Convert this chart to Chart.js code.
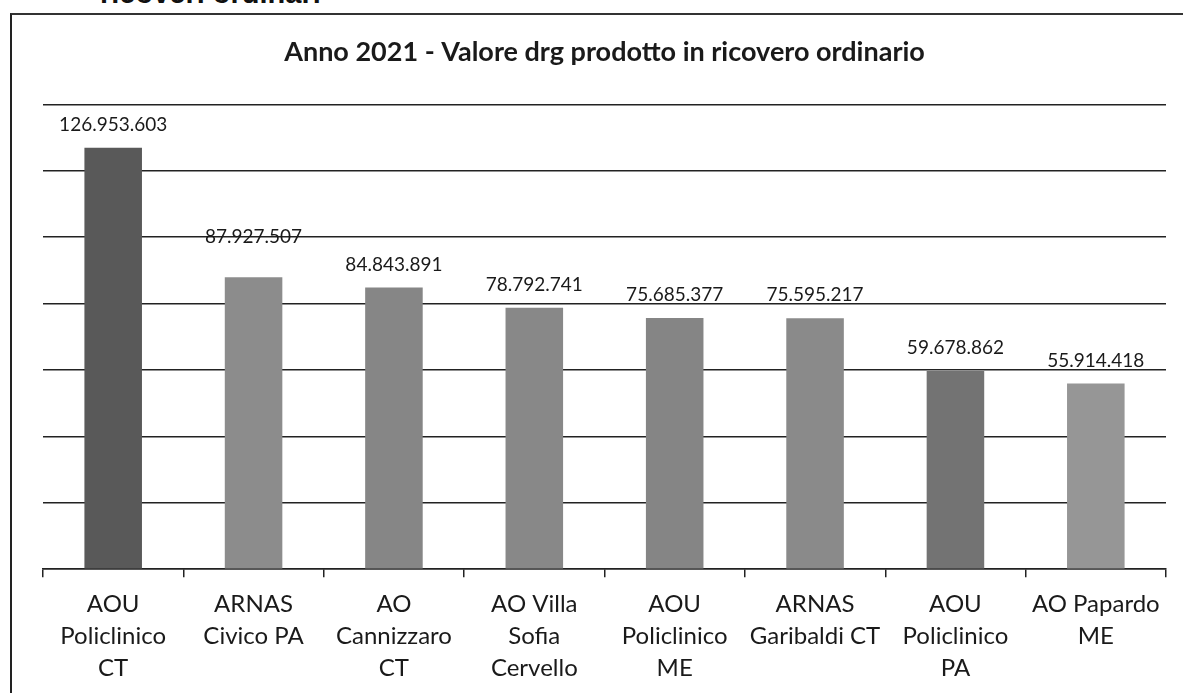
<!DOCTYPE html>
<html>
<head>
<meta charset="utf-8">
<script src="https://cdn.jsdelivr.net/npm/chart.js@4.4.1/dist/chart.umd.min.js"></script>
<style>
    html, body { margin: 0; padding: 0; background: #fff; overflow: hidden; }
    #wrap { position: relative; width: 1183px; height: 693px; }
    #frame {
        position: absolute; left: 10px; top: 13px; width: 1200px; height: 700px;
        border-left: 2px solid #222; border-top: 2px solid #333;
    }
    #caption {
        position: absolute; left: 100px; top: -21px; margin: 0;
        font: bold 29px "Liberation Sans", Arial, sans-serif; color: #111;
        line-height: 29px;
    }
    canvas { position: absolute; left: 0; top: 0; }
</style>
</head>
<body>
<div id="wrap">
    <p id="caption">ricoveri ordinari</p>
    <div id="frame"></div>
    <canvas id="drgChart" width="1183" height="693"></canvas>
</div>
<script>
const categories = [
    ['AOU', 'Policlinico', 'CT'],
    ['ARNAS', 'Civico PA'],
    ['AO', 'Cannizzaro', 'CT'],
    ['AO Villa', 'Sofia', 'Cervello'],
    ['AOU', 'Policlinico', 'ME'],
    ['ARNAS', 'Garibaldi CT'],
    ['AOU', 'Policlinico', 'PA'],
    ['AO Papardo', 'ME']
];
const drgValues = [126953603, 87927507, 84843891, 78792741, 75685377, 75595217, 59678862, 55914418];
const barColors = ['#595959', '#8c8c8c', '#868686', '#888888', '#858585', '#8a8a8a', '#737373', '#969696'];
const yTicks = { min: 0, max: 140000000, step: 20000000 };

function formatIt(n) {
    return String(n).replace(/\B(?=(\d{3})+(?!\d))/g, '.');
}

// etichette sopra le barre (la seconda è spostata più in alto come nell'originale)
const valueLabels = {
    id: 'valueLabels',
    afterDatasetsDraw(chart) {
        const ctx = chart.ctx;
        const meta = chart.getDatasetMeta(0);
        ctx.save();
        ctx.font = '19px Lato, "Open Sans", sans-serif';
        ctx.fillStyle = '#1a1a1a';
        ctx.textAlign = 'center';
        ctx.textBaseline = 'middle';
        meta.data.forEach(function(bar, i) {
            const extra = i === 1 ? 17 : 0;
            ctx.fillText(formatIt(drgValues[i]), bar.x, bar.y - 23 - extra);
        });
        ctx.restore();
    }
};

const ctx = document.getElementById('drgChart').getContext('2d');
new Chart(ctx, {
    type: 'bar',
    data: {
        labels: categories,
        datasets: [{
            data: drgValues,
            backgroundColor: barColors,
            borderWidth: 0,
            categoryPercentage: 1,
            barPercentage: 0.41
        }]
    },
    plugins: [valueLabels],
    options: {
        responsive: false,
        animation: false,
        events: [],
        layout: { padding: { left: 43, right: 17, top: 36, bottom: -2 } },
        plugins: {
            legend: { display: false },
            tooltip: { enabled: false },
            title: {
                display: true,
                text: 'Anno 2021 - Valore drg prodotto in ricovero ordinario',
                color: '#1a1a1a',
                font: { family: 'Lato, "Open Sans", sans-serif', size: 27, weight: 'bold' },
                padding: { top: 0, bottom: 36 }
            }
        },
        scales: {
            x: {
                grid: {
                    drawOnChartArea: false,
                    drawTicks: true,
                    tickLength: 8,
                    color: '#222',
                    lineWidth: 1.5,
                    offset: true
                },
                border: { display: true, color: '#222', width: 1.5 },
                ticks: {
                    color: '#1a1a1a',
                    font: { family: 'Lato, "Open Sans", sans-serif', size: 24, lineHeight: 1.33 },
                    maxRotation: 0,
                    autoSkip: false,
                    padding: 11
                }
            },
            y: {
                min: yTicks.min,
                max: yTicks.max,
                ticks: { display: false, stepSize: yTicks.step },
                grid: { color: '#222', lineWidth: 1.5, drawTicks: false },
                border: { display: false }
            }
        }
    }
});
</script>
</body>
</html>
